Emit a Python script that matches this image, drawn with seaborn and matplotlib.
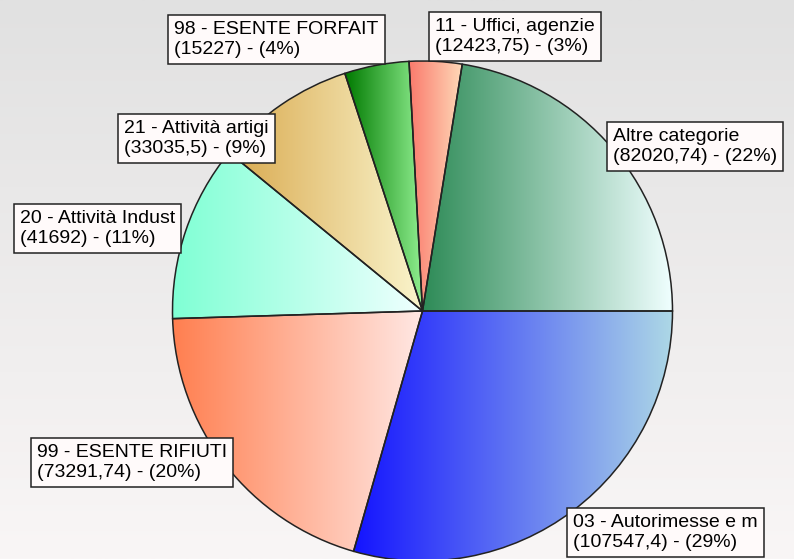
import numpy as np
import matplotlib.pyplot as plt
import seaborn as sns

# data
categorie = ['03 - Autorimesse e m', '99 - ESENTE RIFIUTI', '20 - Attività Indust',
             '21 - Attività artigi', '98 - ESENTE FORFAIT', '11 - Uffici, agenzie',
             'Altre categorie']
valori = [107547.4, 73291.74, 41692, 33035.5, 15227, 12423.75, 82020.74]

# gradient colours of each slice (left -> right)
sfumature = [('#1414ff', '#add8e6'), ('#ff7f50', '#ffe8e4'), ('#7fffd4', '#f0ffff'),
             ('#d9a94e', '#faf5cd'), ('#007a00', '#90ee90'), ('#fa7a6c', '#ffdab9'),
             ('#2e8b57', '#f0ffff')]

# top-left corner of each label box (pixels)
pos_etichette = [(567, 508), (31, 438), (14, 204), (118, 114), (168, 15), (429, 12), (607, 122)]

sns.set_style('white')
plt.rcParams['font.family'] = ['Liberation Sans', 'DejaVu Sans']

W, H = 794, 559
fig = plt.figure(figsize=(W / 100, H / 100), dpi=100)
ax = fig.add_axes([0, 0, 1, 1])

# background
sfondo = sns.blend_palette(['#e1e1e1', '#f9f6f6'], as_cmap=True)
ax.imshow(np.linspace(0, 1, 256).reshape(-1, 1), cmap=sfondo, aspect='auto',
          extent=(0, W, H, 0), zorder=0)

wedges, _ = ax.pie(valori, center=(422.5, 311), radius=250, startangle=0,
                   counterclock=True,
                   wedgeprops=dict(edgecolor='#222222', linewidth=1.1, facecolor='none'))

for w, (c1, c2) in zip(wedges, sfumature):
    v = w.get_path().vertices
    x0, x1 = v[:, 0].min(), v[:, 0].max()
    y0, y1 = v[:, 1].min(), v[:, 1].max()
    cmap = sns.blend_palette([c1, c2], as_cmap=True)
    im = ax.imshow(np.linspace(0, 1, 256).reshape(1, -1), cmap=cmap, aspect='auto',
                   extent=(x0, x1, y1, y0), zorder=1)
    im.set_clip_path(w)
    w.set_zorder(2)

totale = sum(valori)
for nome, v, (bx, by) in zip(categorie, valori, pos_etichette):
    num = ('%.2f' % v).rstrip('0').rstrip('.').replace('.', ',')
    perc = round(v / totale * 100)
    ax.text(bx + 6, by + 6, f'{nome}\n({num}) - ({perc}%)', ha='left', va='top',
            fontsize=14, color='black', zorder=5, linespacing=1.22,
            bbox=dict(boxstyle='square,pad=0.32', facecolor='#fffafa',
                      edgecolor='#222222', linewidth=1.1))

ax.set_xlim(0, W)
ax.set_ylim(H, 0)
ax.set_aspect('auto')
ax.axis('off')

fig.savefig('out.png', dpi=100)
